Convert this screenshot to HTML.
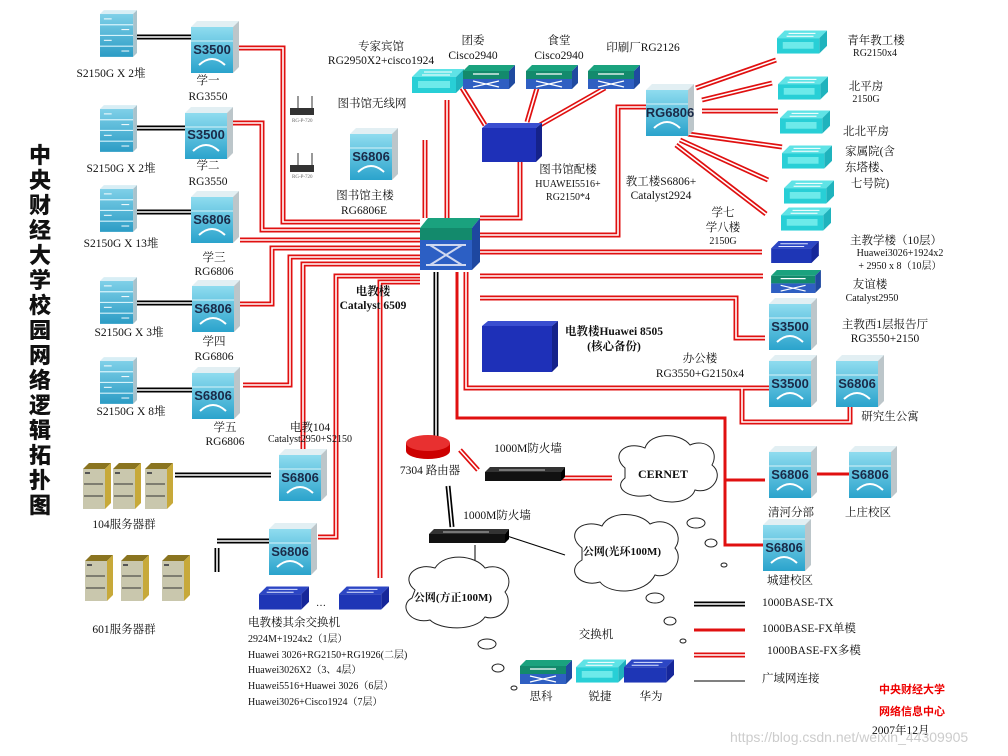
<!DOCTYPE html>
<html><head><meta charset="utf-8">
<style>
html,body{margin:0;padding:0;background:#fff;}
svg{display:block;font-family:"Liberation Serif","Noto Serif CJK SC","Noto Sans CJK SC",serif;}
.t{font-size:11.5px;fill:#111;}
.s{font-size:10px;fill:#111;}
.b{font-weight:bold;}
.lab{font-family:"Liberation Sans",sans-serif;font-weight:bold;font-size:13px;fill:#1a2a48;}
</style></head><body>
<svg width="1008" height="756" viewBox="0 0 1008 756" xmlns="http://www.w3.org/2000/svg">
<defs>
<linearGradient id="gsw" x1="0" y1="0" x2="0" y2="1"><stop offset="0" stop-color="#8fdcef"/><stop offset="1" stop-color="#2aa3cc"/></linearGradient>
<linearGradient id="gsrv" x1="0" y1="0" x2="0" y2="1"><stop offset="0" stop-color="#7fd0e8"/><stop offset="1" stop-color="#2b9cc5"/></linearGradient>
<symbol id="sw" viewBox="0 0 48 52">
<polygon points="0,6 6,0 48,0 42,6" fill="#e2eff3"/>
<polygon points="42,6 48,0 48,46 42,52" fill="#bcc6ca"/>
<rect x="0" y="6" width="42" height="46" fill="url(#gsw)"/>
<line x1="0" y1="20" x2="42" y2="20" stroke="#d8f2f8" stroke-width="1"/>
<path d="M8 44 Q21 32 34 44" stroke="#fff" stroke-width="2" fill="none"/>
</symbol>
<symbol id="srv" viewBox="0 0 38 48">
<polygon points="0,4 4,0 38,0 34,4" fill="#d8eef5"/>
<polygon points="34,4 38,0 38,44 34,48" fill="#a9c3cc"/>
<rect x="0" y="4" width="34" height="44" fill="url(#gsrv)"/>
<g stroke="#d6f3fb" stroke-width="1.2"><line x1="0" y1="15" x2="34" y2="15"/><line x1="0" y1="26" x2="34" y2="26"/><line x1="0" y1="37" x2="34" y2="37"/></g>
<g stroke="#fff" stroke-width="1"><line x1="4" y1="9" x2="12" y2="9"/><line x1="22" y1="20" x2="30" y2="20"/><line x1="4" y1="31" x2="12" y2="31"/><line x1="22" y1="42" x2="30" y2="42"/></g>
</symbol>
<symbol id="gold" viewBox="0 0 28 46">
<polygon points="0,6 6,0 28,0 22,6" fill="#8a7420"/>
<polygon points="22,6 28,0 28,40 22,46" fill="#c7a93a"/>
<rect x="0" y="6" width="22" height="40" fill="#c9c7ad"/>
<rect x="2" y="9" width="5" height="2" fill="#555"/>
<g stroke="#333" stroke-width="1"><line x1="1" y1="21" x2="20" y2="21"/><line x1="1" y1="33" x2="20" y2="33"/></g>
</symbol>
<symbol id="fc" viewBox="0 0 52 24">
<polygon points="0,8 8,0 52,0 44,8" fill="#5fe3e6"/>
<polygon points="44,8 52,0 52,16 44,24" fill="#1fb3bd"/>
<rect x="0" y="8" width="44" height="16" fill="#28cfd6"/>
<rect x="6" y="12" width="32" height="7" fill="#6deaea"/>
<g stroke="#fff" stroke-width="1"><line x1="12" y1="3" x2="40" y2="3"/><line x1="10" y1="6" x2="38" y2="6"/></g>
</symbol>
<symbol id="fg" viewBox="0 0 52 24">
<polygon points="0,6 6,0 52,0 46,6" fill="#1aa27e"/>
<rect x="0" y="6" width="46" height="8" fill="#138a6c"/>
<rect x="0" y="14" width="46" height="10" fill="#2f5fc2"/>
<polygon points="46,6 52,0 52,18 46,24" fill="#1f4aa0"/>
<g stroke="#fff" stroke-width="1.2"><line x1="10" y1="9" x2="36" y2="9"/><line x1="10" y1="16" x2="36" y2="22"/><line x1="10" y1="22" x2="36" y2="16"/></g>
</symbol>
<symbol id="fb" viewBox="0 0 52 24">
<polygon points="0,8 8,0 52,0 44,8" fill="#2c46c4"/>
<polygon points="44,8 52,0 52,16 44,24" fill="#16279a"/>
<rect x="0" y="8" width="44" height="16" fill="#1e36b6"/>
<g stroke="#dfe6ff" stroke-width="1"><line x1="10" y1="3" x2="40" y2="3"/><line x1="8" y1="6" x2="36" y2="6"/></g>
</symbol>
<symbol id="fk" viewBox="0 0 80 14">
<polygon points="0,5 5,0 80,0 76,5" fill="#333"/>
<rect x="0" y="5" width="76" height="9" fill="#111"/>
<polygon points="76,5 80,0 80,10 76,14" fill="#000"/>
<line x1="14" y1="3" x2="60" y2="3" stroke="#bbb" stroke-width="1"/>
</symbol>
<g id="rdl" fill="none">
<path d="M238 48 H283 V222 H420"/>
<path d="M232 123 H262 V230 H420"/>
<path d="M240 240 H420"/>
<path d="M238 304 H272 V248 H420"/>
<path d="M243 385 H290 V257 H420"/>
<path d="M420 264 H303 V455"/>
<path d="M420 276 H336 V537 H318"/>
<path d="M420 282 H380 V578"/>
<path d="M425 218 V140"/>
<path d="M447 218 V100"/>
<path d="M480 218 H520 V160"/>
<path d="M646 107 H618 V235 H480"/>
<path d="M480 252 H762"/>
<path d="M480 276 H763"/>
<path d="M480 298 H736 V338 H765"/>
<path d="M466 272 V388 H770"/>
<path d="M742 388 V422 H850 V405"/>
<path d="M537 88 L527 122"/>
<path d="M605 88 L540 125"/>
<path d="M462 88 L485 125"/>
<path d="M696 88 L776 60"/>
<path d="M702 100 L772 83"/>
<path d="M702 111 L778 111"/>
<path d="M688 134 L782 147"/>
<path d="M680 140 L768 180"/>
<path d="M676 145 L766 214"/>
<path d="M460 450 L478 470"/>
<path d="M562 478 H612"/>
<path d="M694 655 H745"/>
</g>
<g id="bdl" fill="none">
<path d="M137 37 H192"/>
<path d="M136 128 H186"/>
<path d="M136 212 H192"/>
<path d="M137 303 H192"/>
<path d="M137 390 H192"/>
<path d="M175 475 H271"/>
<path d="M217 541 H270"/>
<path d="M217 548 V572"/>
<path d="M436 272 V437"/>
<path d="M448 486 L452 527"/>
<path d="M694 604 H745"/>
</g>
</defs>

<!-- connectors -->
<use href="#rdl" stroke="#e01010" stroke-width="5"/>
<use href="#rdl" stroke="#fff" stroke-width="1.6"/>
<use href="#bdl" stroke="#000" stroke-width="5"/>
<use href="#bdl" stroke="#fff" stroke-width="1.6"/>
<g stroke="#e01010" stroke-width="3" fill="none">
<path d="M457 272 V418 H725 V545 H763"/>
<path d="M725 480 H765"/>
<path d="M816 474 H849"/>
<path d="M694 630 H745"/>
</g>
<g stroke="#000" stroke-width="1" fill="none">
<path d="M507 536 L565 555"/>
<path d="M475 545 V570"/>
<path d="M694 681 H745"/>
</g>

<!-- vertical title -->
<g font-family="'Noto Sans CJK SC',sans-serif" font-weight="900" font-size="22" fill="#111" text-anchor="middle">
<text x="40" y="163">中</text><text x="40" y="188">央</text><text x="40" y="213">财</text><text x="40" y="238">经</text><text x="40" y="263">大</text><text x="40" y="288">学</text><text x="40" y="313">校</text><text x="40" y="338">园</text><text x="40" y="363">网</text><text x="40" y="388">络</text><text x="40" y="413">逻</text><text x="40" y="438">辑</text><text x="40" y="463">拓</text><text x="40" y="488">扑</text><text x="40" y="513">图</text>
</g>

<!-- left stacks -->
<use href="#srv" x="100" y="10" width="37" height="47"/>
<use href="#srv" x="100" y="105" width="37" height="47"/>
<use href="#srv" x="100" y="185" width="37" height="47"/>
<use href="#srv" x="100" y="277" width="37" height="47"/>
<use href="#srv" x="100" y="357" width="37" height="47"/>
<g class="t" text-anchor="middle">
<text x="111" y="77">S2150G X 2堆</text>
<text x="121" y="172">S2150G X 2堆</text>
<text x="121" y="247">S2150G X 13堆</text>
<text x="129" y="336">S2150G X 3堆</text>
<text x="131" y="415">S2150G X 8堆</text>
</g>
<use href="#sw" x="191" y="21" width="48" height="52"/>
<use href="#sw" x="185" y="107" width="48" height="52"/>
<use href="#sw" x="191" y="191" width="48" height="52"/>
<use href="#sw" x="192" y="280" width="48" height="52"/>
<use href="#sw" x="192" y="367" width="48" height="52"/>
<use href="#sw" x="279" y="449" width="48" height="52"/>
<use href="#sw" x="269" y="523" width="48" height="52"/>
<use href="#sw" x="350" y="128" width="48" height="52"/>
<use href="#sw" x="646" y="84" width="48" height="52"/>
<use href="#sw" x="769" y="298" width="48" height="52"/>
<use href="#sw" x="769" y="355" width="48" height="52"/>
<use href="#sw" x="836" y="355" width="48" height="52"/>
<use href="#sw" x="769" y="446" width="48" height="52"/>
<use href="#sw" x="849" y="446" width="48" height="52"/>
<use href="#sw" x="763" y="519" width="48" height="52"/>
<g class="lab" text-anchor="middle">
<text x="212" y="54">S3500</text>
<text x="206" y="139">S3500</text>
<text x="212" y="224">S6806</text>
<text x="213" y="313">S6806</text>
<text x="213" y="400">S6806</text>
<text x="300" y="482">S6806</text>
<text x="290" y="556">S6806</text>
<text x="371" y="161">S6806</text>
<text x="670" y="117">RG6806</text>
<text x="790" y="331">S3500</text>
<text x="790" y="388">S3500</text>
<text x="857" y="388">S6806</text>
<text x="790" y="479">S6806</text>
<text x="870" y="479">S6806</text>
<text x="784" y="552">S6806</text>
</g>
<g class="t" text-anchor="middle">
<text x="208" y="84">学一</text><text x="208" y="100">RG3550</text>
<text x="208" y="169">学二</text><text x="208" y="185">RG3550</text>
<text x="214" y="261">学三</text><text x="214" y="275">RG6806</text>
<text x="214" y="345">学四</text><text x="214" y="360">RG6806</text>
<text x="225" y="431">学五</text><text x="225" y="445">RG6806</text>
<text x="310" y="431">电教104</text>
<text class="s" x="310" y="442">Catalyst2950+S2150</text>
<text x="365" y="199">图书馆主楼</text><text x="364" y="214">RG6806E</text>
<text x="381" y="50">专家宾馆</text><text x="381" y="64">RG2950X2+cisco1924</text>
<text x="473" y="44">团委</text><text x="473" y="59">Cisco2940</text>
<text x="559" y="44">食堂</text><text x="559" y="59">Cisco2940</text>
<text x="643" y="51">印刷厂RG2126</text>
<text x="372" y="107">图书馆无线网</text>
<text x="568" y="173">图书馆配楼</text>
<text class="s" x="568" y="187">HUAWEI5516+</text><text class="s" x="568" y="200">RG2150*4</text>
<text x="661" y="185">教工楼S6806+</text><text x="661" y="199">Catalyst2924</text>
<text x="723" y="216">学七</text><text x="723" y="231">学八楼</text><text class="s" x="723" y="244">2150G</text>
<text x="876" y="44">青年教工楼</text><text class="s" x="875" y="56">RG2150x4</text>
<text x="866" y="90">北平房</text><text class="s" x="866" y="102">2150G</text>
<text x="866" y="135">北北平房</text>
<text x="870" y="155">家属院(含</text><text x="868" y="171">东塔楼、</text><text x="870" y="187">七号院)</text>
<text x="896" y="244">主教学楼（10层）</text>
<text class="s" x="900" y="256">Huawei3026+1924x2</text>
<text class="s" x="900" y="269">+ 2950 x 8（10层）</text>
<text x="870" y="288">友谊楼</text><text class="s" x="872" y="301">Catalyst2950</text>
<text x="885" y="328">主教西1层报告厅</text><text x="885" y="342">RG3550+2150</text>
<text x="700" y="362">办公楼</text><text x="700" y="377">RG3550+G2150x4</text>
<text x="890" y="420">研究生公寓</text>
<text x="791" y="516">清河分部</text><text x="868" y="516">上庄校区</text>
<text x="790" y="584">城建校区</text>
<text x="430" y="474">7304 路由器</text>
<text x="528" y="452">1000M防火墙</text>
<text x="497" y="519">1000M防火墙</text>
<text x="124" y="528">104服务器群</text>
<text x="124" y="633">601服务器群</text>
<text x="596" y="638">交换机</text>
<text x="541" y="700">思科</text><text x="600" y="700">锐捷</text><text x="651" y="700">华为</text>
</g>
<g class="t">
<text x="248" y="626">电教楼其余交换机</text>
<text class="s" x="248" y="642">2924M+1924x2（1层）</text>
<text class="s" x="248" y="658">Huawei 3026+RG2150+RG1926(二层)</text>
<text class="s" x="248" y="673">Huawei3026X2（3、4层）</text>
<text class="s" x="248" y="689">Huawei5516+Huawei 3026（6层）</text>
<text class="s" x="248" y="705">Huawei3026+Cisco1924（7层）</text>
<text x="762" y="606">1000BASE-TX</text>
<text x="762" y="632">1000BASE-FX单模</text>
<text x="767" y="654">1000BASE-FX多模</text>
<text x="762" y="682">广域网连接</text>
<text x="872" y="734">2007年12月</text>
</g>
<g font-weight="bold" font-size="11.5" fill="#111" text-anchor="middle">
<text x="373" y="295">电教楼</text><text x="373" y="309">Catalyst 6509</text>
<text x="614" y="335">电教楼Huawei 8505</text><text x="614" y="350">(核心备份)</text>
</g>
<g font-weight="bold" font-size="11" fill="#e00" font-family="'Noto Sans CJK SC',sans-serif" text-anchor="middle">
<text x="912" y="693">中央财经大学</text><text x="912" y="715">网络信息中心</text>
</g>

<!-- APs -->
<g>
<rect x="290" y="108" width="24" height="7" fill="#333"/><line x1="298" y1="96" x2="298" y2="108" stroke="#333"/><line x1="312" y1="96" x2="312" y2="108" stroke="#333"/>
<rect x="290" y="165" width="24" height="7" fill="#333"/><line x1="298" y1="153" x2="298" y2="165" stroke="#333"/><line x1="312" y1="153" x2="312" y2="165" stroke="#333"/>
<text x="292" y="122" font-size="5" fill="#666">RG-P-720</text><text x="292" y="178" font-size="5" fill="#666">RG-P-720</text>
</g>

<!-- core -->
<polygon points="420,228 428,218 480,218 472,228" fill="#1aa27e"/>
<rect x="420" y="228" width="52" height="12" fill="#138a6c"/>
<rect x="420" y="240" width="52" height="30" fill="#2c5fc4"/>
<polygon points="472,228 480,218 480,262 472,270" fill="#1e47a0"/>
<g stroke="#cfd8f0" stroke-width="2"><line x1="430" y1="245" x2="462" y2="265"/><line x1="430" y1="265" x2="462" y2="245"/><line x1="426" y1="245" x2="466" y2="245"/><line x1="426" y1="265" x2="466" y2="265"/></g>

<!-- blue boxes -->
<rect x="482" y="128" width="54" height="34" fill="#1e30b8"/><polygon points="482,128 488,123 542,123 536,128" fill="#3a4ed0"/><polygon points="536,128 542,123 542,156 536,162" fill="#15228a"/>
<rect x="482" y="326" width="70" height="46" fill="#1e30b8"/><polygon points="482,326 488,321 558,321 552,326" fill="#3a4ed0"/><polygon points="552,326 558,321 558,366 552,372" fill="#15228a"/>

<!-- flat switches -->
<use href="#fc" x="412" y="69" width="52" height="24"/>
<use href="#fg" x="463" y="65" width="52" height="24"/>
<use href="#fg" x="526" y="65" width="52" height="24"/>
<use href="#fg" x="588" y="65" width="52" height="24"/>
<use href="#fc" x="777" y="30" width="50" height="24"/>
<use href="#fc" x="778" y="76" width="50" height="24"/>
<use href="#fc" x="780" y="110" width="50" height="24"/>
<use href="#fc" x="782" y="145" width="50" height="24"/>
<use href="#fc" x="784" y="180" width="50" height="24"/>
<use href="#fc" x="781" y="207" width="50" height="24"/>
<use href="#fb" x="770" y="241" width="50" height="22"/>
<use href="#fg" x="770" y="270" width="52" height="23"/>
<use href="#fb" x="259" y="586" width="50" height="24"/>
<use href="#fb" x="339" y="586" width="50" height="24"/>
<text x="316" y="606" class="s">…</text>
<use href="#fg" x="520" y="660" width="52" height="24"/>
<use href="#fc" x="576" y="659" width="50" height="24"/>
<use href="#fb" x="624" y="659" width="50" height="24"/>

<!-- gold servers -->
<use href="#gold" x="83" y="463" width="28" height="46"/>
<use href="#gold" x="113" y="463" width="28" height="46"/>
<use href="#gold" x="145" y="463" width="28" height="46"/>
<use href="#gold" x="85" y="555" width="28" height="46"/>
<use href="#gold" x="121" y="555" width="28" height="46"/>
<use href="#gold" x="162" y="555" width="28" height="46"/>

<!-- router & firewalls -->
<ellipse cx="428" cy="451" rx="22" ry="8" fill="#c00"/>
<rect x="406" y="443" width="44" height="8" fill="#c00"/>
<ellipse cx="428" cy="443" rx="22" ry="8" fill="#e83030"/>
<use href="#fk" x="485" y="467" width="80" height="14"/>
<use href="#fk" x="429" y="529" width="80" height="14"/>

<!-- clouds -->
<g fill="#fff" stroke="#222" stroke-width="1">
<path d="M625 468 C610 455 625 440 645 448 C650 432 680 432 690 445 C705 438 720 450 712 465 C725 475 712 495 695 490 C690 505 660 505 650 495 C630 500 612 488 625 478 Z"/>
<path d="M582 548 C565 535 580 518 602 526 C610 510 640 512 650 524 C670 515 685 535 675 548 C685 560 670 580 655 575 C645 595 610 595 600 582 C580 588 565 570 582 560 Z"/>
<path d="M415 590 C400 578 415 562 435 568 C445 552 475 555 485 568 C505 562 515 580 505 592 C515 605 500 622 485 617 C475 632 440 630 430 620 C410 625 398 605 412 598 Z"/>
<ellipse cx="696" cy="523" rx="9" ry="5"/><ellipse cx="711" cy="543" rx="6" ry="4"/><ellipse cx="724" cy="565" rx="3" ry="2"/>
<ellipse cx="655" cy="598" rx="9" ry="5"/><ellipse cx="670" cy="621" rx="6" ry="4"/><ellipse cx="683" cy="641" rx="3" ry="2"/>
<ellipse cx="498" cy="668" rx="6" ry="4"/><ellipse cx="514" cy="688" rx="3" ry="2"/><ellipse cx="487" cy="644" rx="9" ry="5"/>
</g>
<g font-weight="bold" font-size="12" fill="#111" text-anchor="middle">
<text x="663" y="478">CERNET</text>
<text x="622" y="555" font-size="11">公网(光环100M)</text>
<text x="453" y="601" font-size="11">公网(方正100M)</text>
</g>
<text x="730" y="742" font-family="'Liberation Sans',sans-serif" font-size="14" fill="#ccc">https://blog.csdn.net/weixin_44309905</text>
</svg>
</body></html>
